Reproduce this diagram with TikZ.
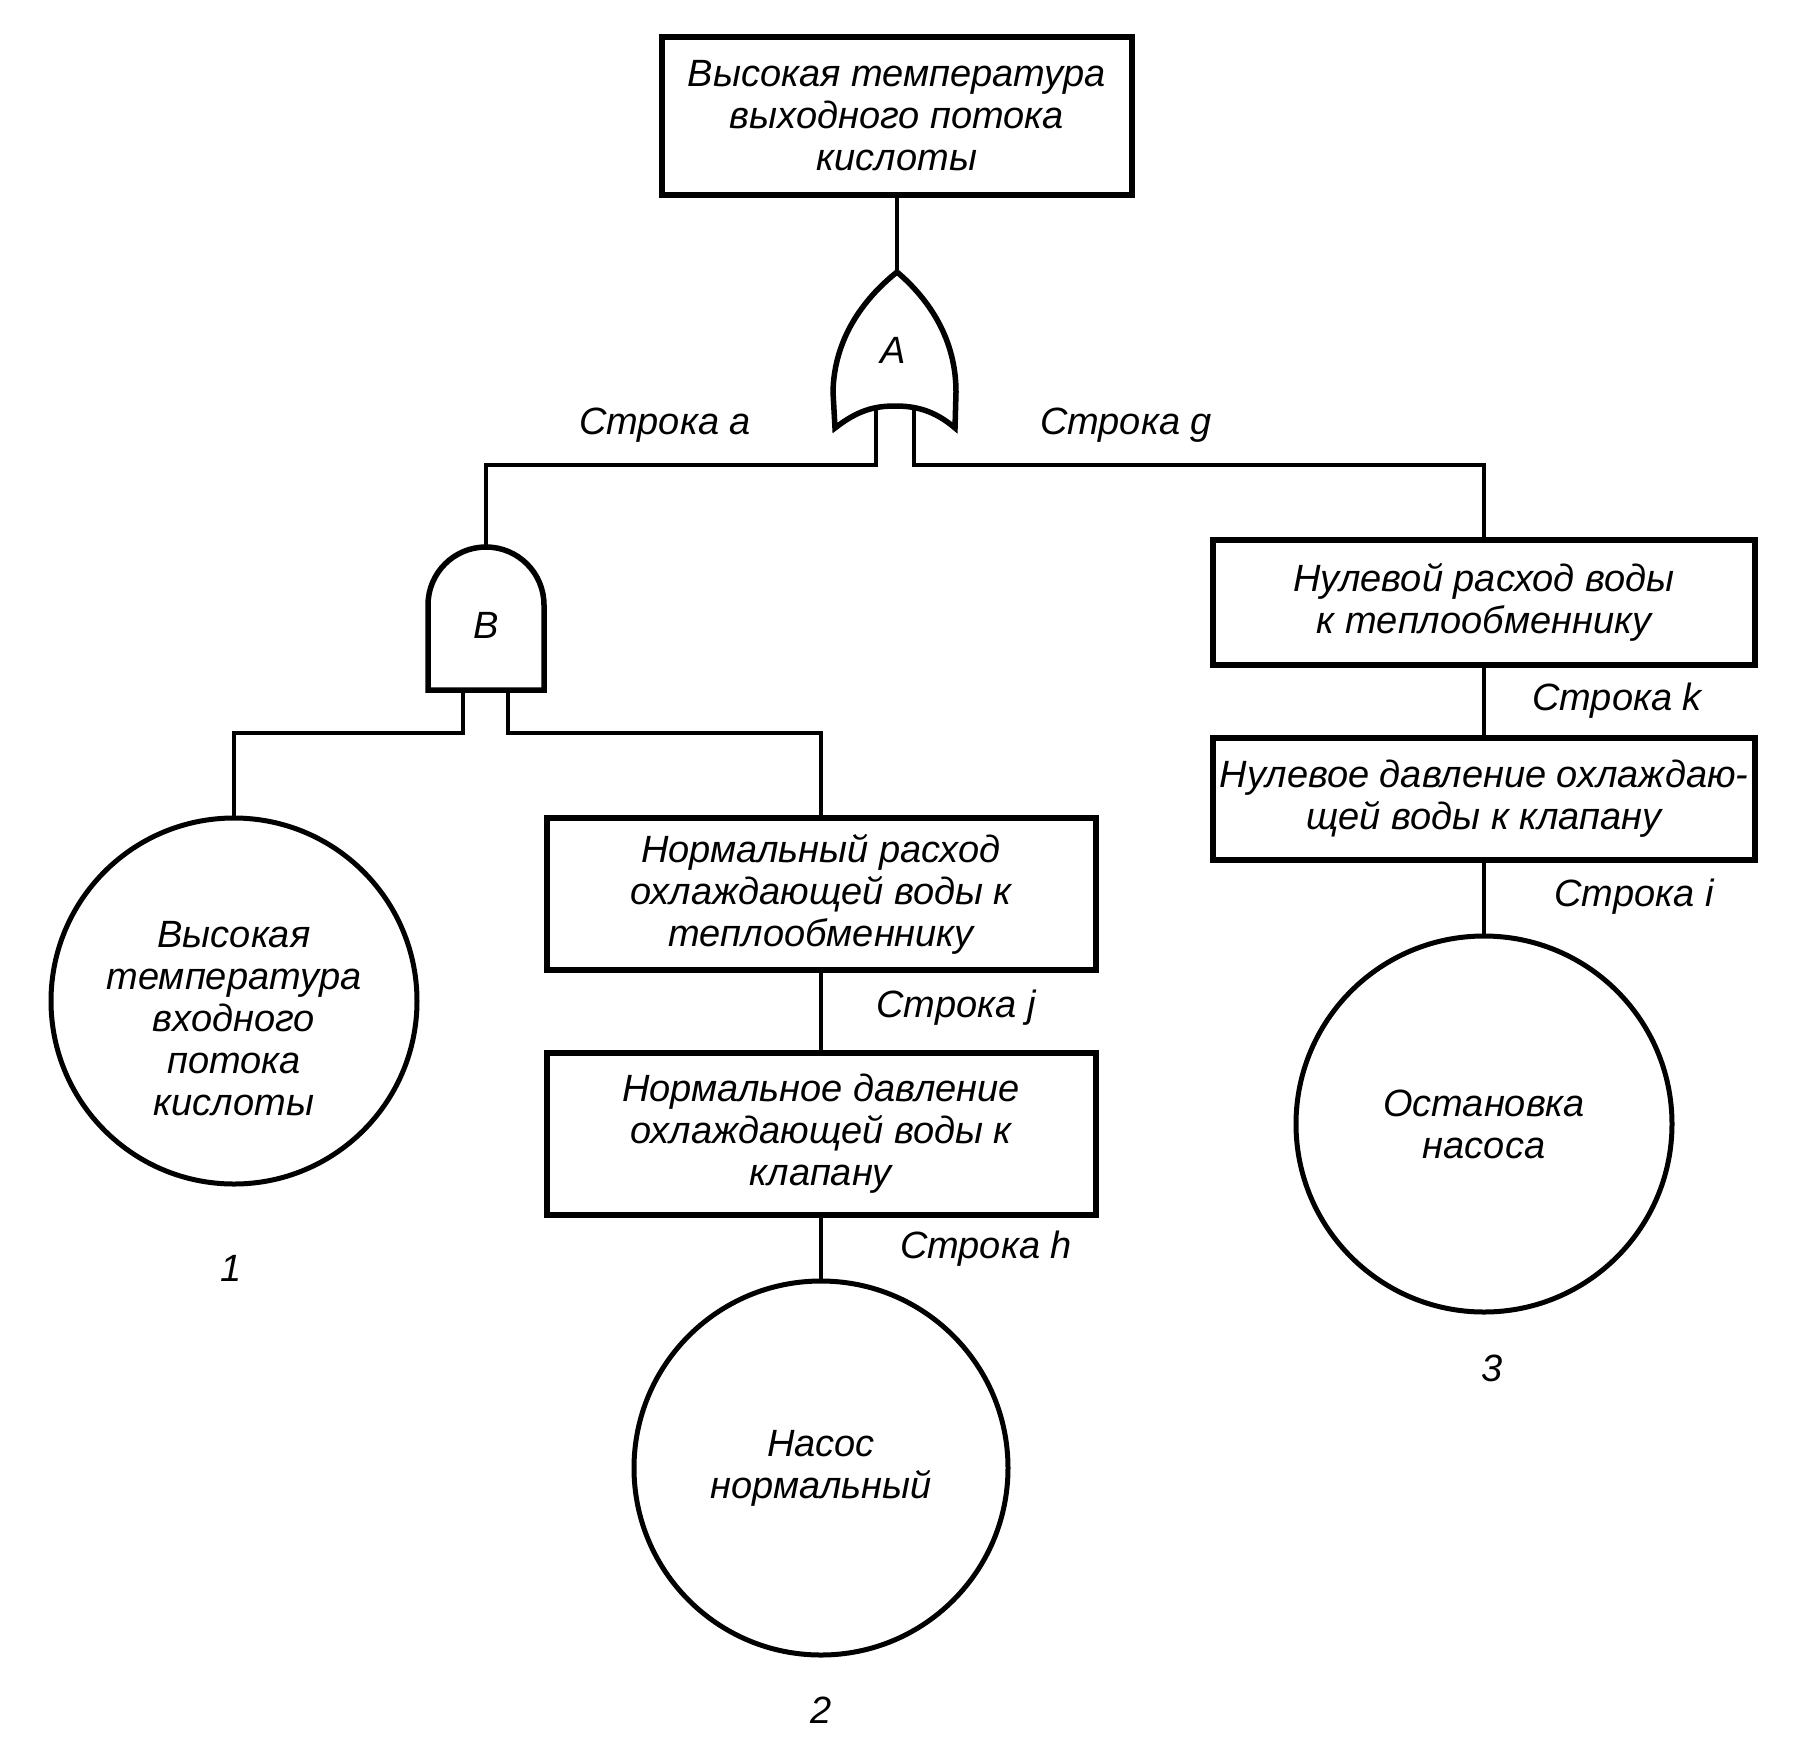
\documentclass[tikz,border=0pt]{standalone}
\usepackage{fontspec}
\setmainfont{Liberation Sans}
\begin{document}
\begin{tikzpicture}[x=1pt,y=-1pt,
  txt/.style={font=\fontsize{38}{42}\selectfont\itshape, align=center, inner sep=0pt},
  ebox/.style={draw, line width=6pt, rectangle, inner sep=0pt, txt},
  ev/.style={draw, line width=5pt, circle, inner sep=0pt, txt},
  gate/.style={draw, line width=5.5pt, line join=miter},
  conn/.style={draw, line width=4.5pt}]
\useasboundingbox (0,0) rectangle (1801,1749);

% top event
\node[ebox, minimum width=470pt, minimum height=158pt] (top) at (897,116)
  {Высокая температура\\выходного потока\\кислоты};

% OR gate A
\coordinate (Atop) at (897,272);
\coordinate (Al) at (876,409);
\coordinate (Ar) at (914,409);
\path[gate] (Atop) .. controls (862,300) and (834,340) .. (833,392)
  -- (835,428) .. controls (858,410) and (875,406) .. (895,406)
  .. controls (915,406) and (934,410) .. (955,428)
  -- (956,392) .. controls (956,340) and (930,300) .. (Atop);
\node[txt] (A) at (893,350) {A};

% AND gate B
\coordinate (Btop) at (486,547);
\coordinate (Bl) at (463,690);
\coordinate (Br) at (508,690);
\path[gate] (428,690) -- (428,605) arc[start angle=180,end angle=0,radius=58pt]
  -- (544,690) -- cycle;
\node[txt] (B) at (486,625) {B};

% boxes
\node[ebox, minimum width=549pt, minimum height=152pt] (b2) at (821,894)
  {Нормальный расход\\охлаждающей воды к\\теплообменнику};
\node[ebox, minimum width=549pt, minimum height=162pt] (b3) at (821,1134)
  {Нормальное давление\\охлаждающей воды к\\клапану};
\node[ebox, minimum width=542pt, minimum height=125pt] (b4) at (1484,602)
  {Нулевой расход воды\\к теплообменнику};
\node[ebox, minimum width=542pt, minimum height=122pt] (b5) at (1484,799)
  {Нулевое давление охлаждаю-\\щей воды к клапану};

% basic events
\node[ev, minimum size=366pt] (c1) at (234,1001) {};
\node[txt] (c1t) at (234,1019) {Высокая\\температура\\входного\\потока\\кислоты};
\node[ev, minimum size=374pt] (c2) at (821,1468) {Насос\\нормальный};
\node[ev, minimum size=376pt] (c3) at (1484,1124) {Остановка\\насоса};

% connectors
\draw[conn] (top.south) -- (Atop);
\draw[conn] (Al) -- (876,465) -| (Btop);
\draw[conn] (Ar) -- (914,465) -| (b4.north);
\draw[conn] (Bl) -- (463,733) -| (c1.north);
\draw[conn] (Br) -- (508,733) -| (b2.north);
\draw[conn] (b2.south) -- (b3.north);
\draw[conn] (b3.south) -- (c2.north);
\draw[conn] (b4.south) -- (b5.north);
\draw[conn] (b5.south) -- (c3.north);

% labels
\node[txt] (la) at (665,425) {Строка a};
\node[txt] (lg) at (1126,425) {Строка g};
\node[txt] (lj) at (956,1008) {Строка j};
\node[txt] (lh) at (986,1249) {Строка h};
\node[txt] (lk) at (1617,701) {Строка k};
\node[txt] (li) at (1634,897) {Строка i};
\node[txt] (n1) at (231,1268) {1};
\node[txt] (n2) at (821,1710) {2};
\node[txt] (n3) at (1492,1368) {3};
\end{tikzpicture}
\end{document}
